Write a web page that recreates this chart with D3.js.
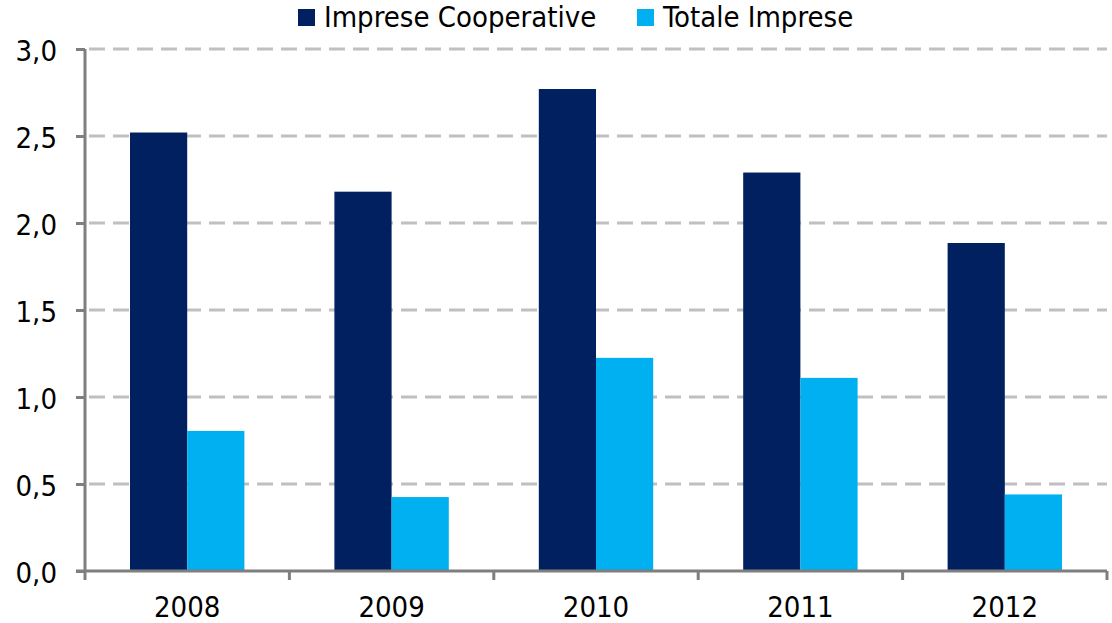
<!DOCTYPE html>
<html>
<head>
<meta charset="utf-8">
<script src="https://cdn.jsdelivr.net/npm/d3@7"></script>
<style>
  body { margin: 0; background: #fff; }
  text { font-family: "DejaVu Sans Condensed", "DejaVu Sans", sans-serif; fill: #000; }
</style>
</head>
<body>
<div id="chart"></div>
<script>
// data
var years = ["2008", "2009", "2010", "2011", "2012"];
var series = ["Imprese Cooperative", "Totale Imprese"];
var coop = [2.52, 2.18, 2.77, 2.29, 1.885];
var totale = [0.805, 0.425, 1.225, 1.11, 0.44];
var yTicks = [0, 0.5, 1.0, 1.5, 2.0, 2.5, 3.0];
var colors = ["#002060", "#00B0F0"];

var svgWidth = 1112;
var svgHeight = 623;

var margin = { top: 49, right: 5, bottom: 52, left: 85 };
var width = svgWidth - margin.left - margin.right;
var height = svgHeight - margin.top - margin.bottom;
var fontSize = "29px";

var svg = d3.select("#chart")
    .append("svg")
    .attr("width", svgWidth)
    .attr("height", svgHeight);

var chartGroup = svg.append("g")
    .attr("transform", `translate(${margin.left},${margin.top})`);

// scales
var xScale = d3.scaleBand()
    .domain(years)
    .range([0, width]);

var groupPad = 45;
var xInner = d3.scaleBand()
    .domain(series)
    .range([groupPad, xScale.bandwidth() - groupPad]);

var yScale = d3.scaleLinear()
    .domain([0, 3])
    .range([height, 0]);

// gridlines
chartGroup.append("g")
    .selectAll("line")
    .data(yTicks.filter(d => d > 0))
    .enter()
    .append("line")
    .attr("x1", 0)
    .attr("x2", width)
    .attr("y1", d => yScale(d))
    .attr("y2", d => yScale(d))
    .attr("stroke", "#c0c0c0")
    .attr("stroke-width", 3)
    .attr("stroke-dasharray", "16,8")
    .attr("stroke-dashoffset", -4);

// bars
var rows = years.map((y, i) => ({ year: y, values: [coop[i], totale[i]] }));

var groups = chartGroup.selectAll(".year")
    .data(rows)
    .enter()
    .append("g")
    .attr("transform", d => `translate(${xScale(d.year)},0)`);

groups.selectAll("rect")
    .data(d => d.values.map((v, k) => ({ key: series[k], value: v, k: k })))
    .enter()
    .append("rect")
    .attr("x", d => xInner(d.key))
    .attr("width", xInner.bandwidth())
    .attr("y", d => yScale(d.value))
    .attr("height", d => yScale(0) - yScale(d.value))
    .attr("fill", d => colors[d.k]);

// y axis
var yAxis = d3.axisLeft(yScale)
    .tickValues(yTicks)
    .tickSize(9)
    .tickPadding(19)
    .tickFormat(d => d3.format(".1f")(d).replace(".", ","));

var yAxisG = chartGroup.append("g").call(yAxis);
yAxisG.select(".domain").remove();
yAxisG.append("line")
    .attr("x1", 0).attr("x2", 0)
    .attr("y1", 0).attr("y2", height + 1);
yAxisG.selectAll("line")
    .attr("stroke", "#7f7f7f")
    .attr("stroke-width", 3);
yAxisG.selectAll("text")
    .attr("font-size", fontSize)
    .attr("font-family", "DejaVu Sans Condensed, DejaVu Sans, sans-serif")
    .attr("dy", "0.4em");

// x axis
var xAxisG = chartGroup.append("g")
    .attr("transform", `translate(0,${height})`);
xAxisG.append("line")
    .attr("x1", -9).attr("x2", width)
    .attr("y1", 0).attr("y2", 0);
xAxisG.selectAll(".tk")
    .data(years.concat(["end"]))
    .enter()
    .append("line")
    .attr("class", "tk")
    .attr("x1", (d, i) => i < years.length ? xScale(d) : width)
    .attr("x2", (d, i) => i < years.length ? xScale(d) : width)
    .attr("y1", 0)
    .attr("y2", 9);
xAxisG.selectAll("line")
    .attr("stroke", "#7f7f7f")
    .attr("stroke-width", 3);
xAxisG.selectAll(".lbl")
    .data(years)
    .enter()
    .append("text")
    .attr("class", "lbl")
    .attr("x", d => xScale(d) + xScale.bandwidth() / 2)
    .attr("y", 46)
    .attr("text-anchor", "middle")
    .attr("font-size", fontSize)
    .text(d => d);

// legend
var legendX = [298, 637];
var legend = svg.append("g");
series.forEach((s, i) => {
    legend.append("rect")
        .attr("x", legendX[i])
        .attr("y", 9)
        .attr("width", 17)
        .attr("height", 17)
        .attr("fill", colors[i]);
    legend.append("text")
        .attr("x", legendX[i] + 26)
        .attr("y", 27)
        .attr("font-size", fontSize)
        .text(s);
});
</script>
</body>
</html>
